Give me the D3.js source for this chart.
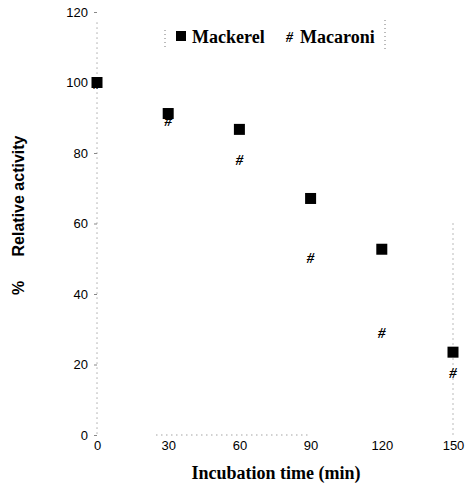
<!DOCTYPE html>
<html>
<head>
<meta charset="utf-8">
<script src="https://cdn.jsdelivr.net/npm/d3@7"></script>
<style>
  body { margin: 0; background: #fff; }
  svg { display: block; }
</style>
</head>
<body>
<div id="chart"></div>
<script>
const times = [0, 30, 60, 90, 120, 150]
const mackerel = [100, 91.2, 86.7, 67.1, 52.7, 23.5]
const macaroni = [99.5, 89.2, 78, 50.1, 28.9, 17.6]
const xTicks = [0, 30, 60, 90, 120, 150]
const yTicks = [0, 20, 40, 60, 80, 100, 120]

const width = 466
const height = 486

const svg = d3.select('#chart')
    .append('svg')
    .attr('width', width)
    .attr('height', height)

const x = d3.scaleLinear().domain([0, 150]).range([97, 453])
const y = d3.scaleLinear().domain([0, 120]).range([435, 12])

// faint dotted frame, like the scan
const frame = svg.append('g')
    .attr('stroke', '#777')
    .attr('stroke-width', 1)
    .attr('stroke-dasharray', '1,4')
frame.append('line')
    .attr('x1', x(0)).attr('x2', x(0))
    .attr('y1', y(117)).attr('y2', y(0))
frame.append('line')
    .attr('x1', x(150)).attr('x2', x(150))
    .attr('y1', y(60)).attr('y2', y(0))
frame.append('line')
    .attr('x1', x(25)).attr('x2', x(90))
    .attr('y1', y(0)).attr('y2', y(0))

// y axis
const yAxis = svg.append('g')
    .attr('transform', `translate(${x(0)},0)`)
    .call(d3.axisLeft(y).tickValues(yTicks).tickSize(3).tickPadding(6))
yAxis.select('.domain').remove()
yAxis.selectAll('.tick line').attr('stroke', '#888')
yAxis.selectAll('text')
    .attr('font-family', 'Liberation Sans, Arial, sans-serif')
    .attr('font-size', 13)
    .attr('fill', '#000')

// x axis
const xAxis = svg.append('g')
    .attr('transform', `translate(0,${y(0)})`)
    .call(d3.axisBottom(x).tickValues(xTicks).tickSize(0).tickPadding(6))
xAxis.select('.domain').remove()
xAxis.selectAll('text')
    .attr('font-family', 'Liberation Sans, Arial, sans-serif')
    .attr('font-size', 13)
    .attr('fill', '#000')

// axis titles
svg.append('text')
    .attr('x', 276)
    .attr('y', 479)
    .attr('text-anchor', 'middle')
    .attr('font-family', 'Liberation Serif, Times New Roman, serif')
    .attr('font-weight', 'bold')
    .attr('font-size', 18)
    .text('Incubation time (min)')

const yTitle = svg.append('g')
    .attr('font-family', 'Liberation Sans, Arial, sans-serif')
    .attr('font-weight', 'bold')
    .attr('font-size', 16)
yTitle.append('text')
    .attr('transform', 'translate(24,196) rotate(-90)')
    .attr('text-anchor', 'middle')
    .text('Relative activity')
yTitle.append('text')
    .attr('transform', 'translate(24,288) rotate(-90)')
    .attr('text-anchor', 'middle')
    .text('%')

// mackerel squares
const sq = 11
svg.append('g')
    .selectAll('rect')
    .data(times)
    .enter()
    .append('rect')
    .attr('x', (d) => x(d) - sq / 2)
    .attr('y', (d, i) => y(mackerel[i]) - sq / 2)
    .attr('width', sq)
    .attr('height', sq)
    .attr('fill', '#000')

// macaroni hashes
svg.append('g')
    .selectAll('text')
    .data(times)
    .enter()
    .append('text')
    .attr('x', (d) => x(d))
    .attr('y', (d, i) => y(macaroni[i]) + 5)
    .attr('text-anchor', 'middle')
    .attr('font-family', 'Liberation Serif, Times New Roman, serif')
    .attr('font-style', 'italic')
    .attr('font-weight', 'bold')
    .attr('font-size', 15)
    .text('#')

// legend
const legend = svg.append('g')
    .attr('font-family', 'Liberation Serif, Times New Roman, serif')
    .attr('font-weight', 'bold')
    .attr('font-size', 18)
legend.append('rect')
    .attr('x', 176).attr('y', 31)
    .attr('width', 10).attr('height', 10)
    .attr('fill', '#000')
legend.append('text')
    .attr('x', 192).attr('y', 43)
    .text('Mackerel')
legend.append('text')
    .attr('x', 286).attr('y', 42)
    .attr('font-style', 'italic')
    .attr('font-size', 14)
    .text('#')
legend.append('text')
    .attr('x', 300).attr('y', 43)
    .text('Macaroni')
legend.append('line')
    .attr('x1', 165).attr('x2', 165)
    .attr('y1', 30).attr('y2', 50)
    .attr('stroke', '#777')
    .attr('stroke-dasharray', '1,3')
legend.append('line')
    .attr('x1', 385).attr('x2', 385)
    .attr('y1', 20).attr('y2', 50)
    .attr('stroke', '#777')
    .attr('stroke-dasharray', '1,3')
</script>
</body>
</html>
